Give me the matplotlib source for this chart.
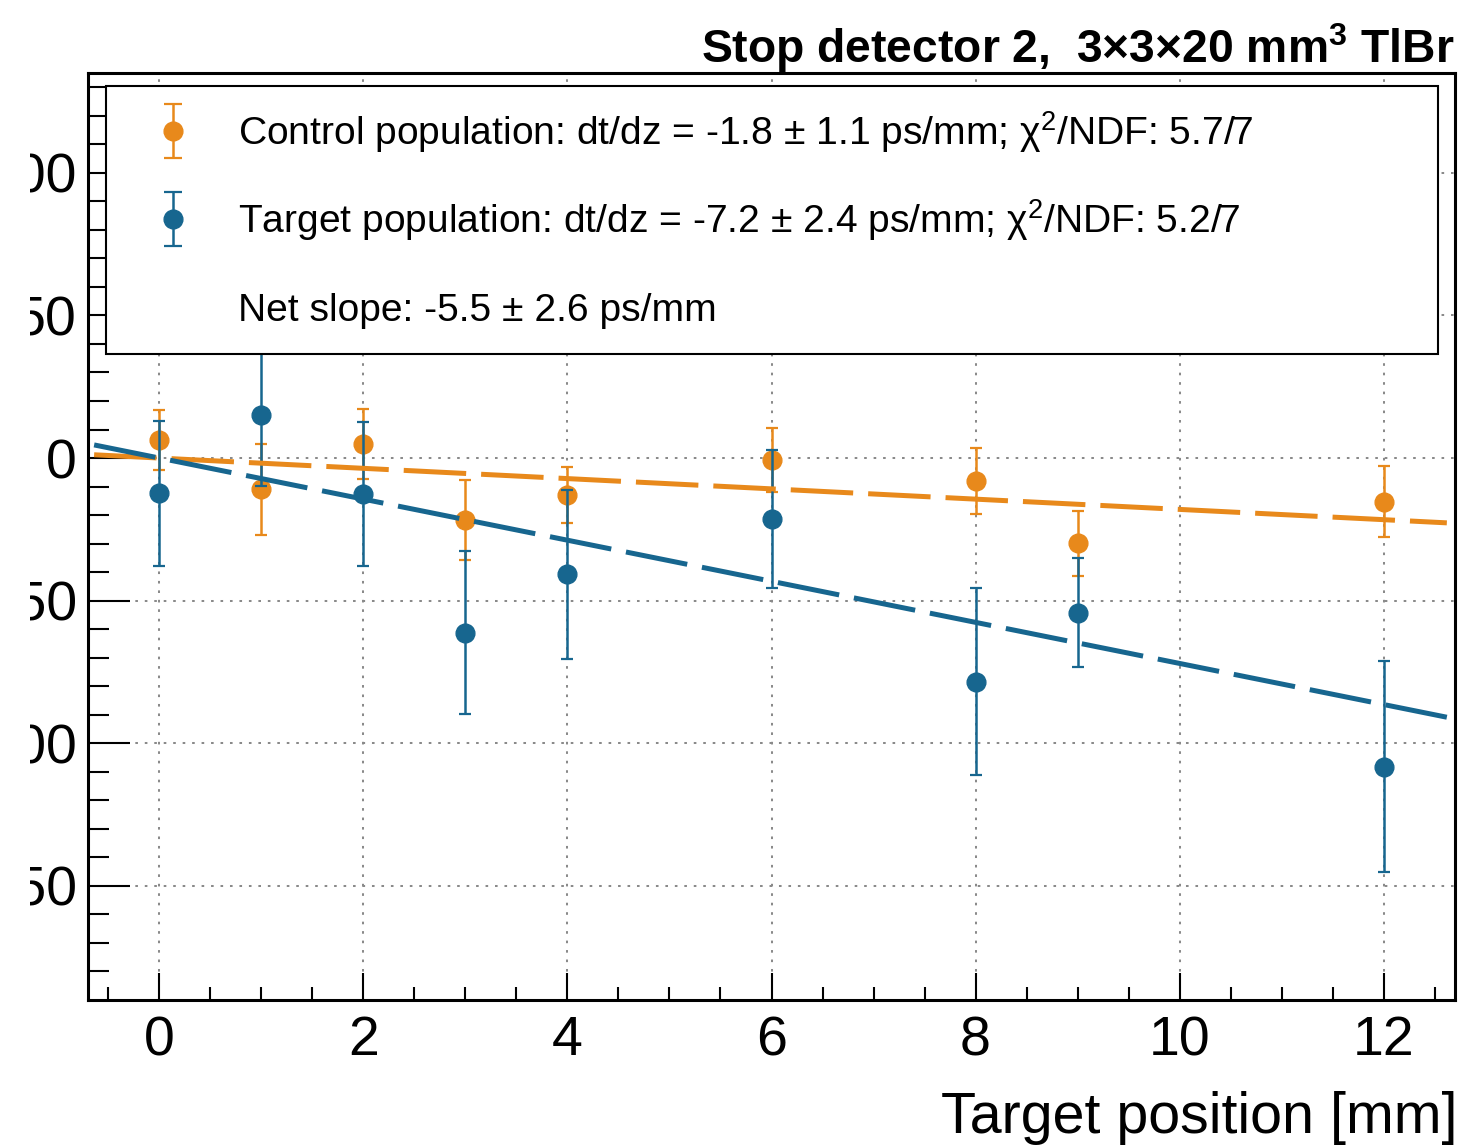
import numpy as np
import matplotlib
matplotlib.use("Agg")
import matplotlib.pyplot as plt
from matplotlib.lines import Line2D
from matplotlib.patches import Rectangle
from matplotlib.container import ErrorbarContainer
from matplotlib.legend_handler import HandlerErrorbar

plt.rcParams['font.family'] = ['Liberation Sans', 'DejaVu Sans']
plt.rcParams['mathtext.fontset'] = 'custom'
plt.rcParams['mathtext.rm'] = 'Liberation Sans'
plt.rcParams['mathtext.it'] = 'Liberation Sans:italic'
plt.rcParams['mathtext.bf'] = 'Liberation Sans:bold'
plt.rcParams['mathtext.default'] = 'regular'

# measured time offsets vs. target position
positions = [0, 1, 2, 3, 4, 6, 8, 9, 12]
control_dt = [6.3, -11.0, 4.9, -21.7, -13.0, -0.7, -8.1, -29.9, -15.3]
control_err = [10.4, 16.1, 12.3, 14.1, 9.7, 11.1, 11.6, 11.5, 12.4]
target_dt = [-12.4, 15.2, -12.6, -61.2, -40.7, -21.4, -78.4, -54.2, -108.2]
target_err = [25.3, 25.0, 25.2, 28.7, 29.6, 24.2, 32.7, 19.1, 36.9]

# linear fits (slope in ps/mm, offset in ps)
control_fit = (-1.8, 0.0)
target_fit = (-7.2, 0.0)
fit_range = (-0.64, 12.62)

labels = [
    r"Control population: dt/dz = -1.8 ± 1.1 ps/mm; $\chi^{2}$/NDF: 5.7/7",
    r"Target population: dt/dz = -7.2 ± 2.4 ps/mm; $\chi^{2}$/NDF: 5.2/7",
    "Net slope: -5.5 ± 2.6 ps/mm",
]

orange = "#E8891B"
blue = "#17668F"


class LegendErrorbar(HandlerErrorbar):
    # same as HandlerErrorbar, but marker centred on the text and wider caps
    def create_artists(self, legend, orig_handle, xdescent, ydescent, width,
                       height, fontsize, trans):
        artists = super().create_artists(legend, orig_handle, xdescent,
                                         ydescent + 0.254 * fontsize, width,
                                         height, fontsize, trans)
        for a in artists:
            if isinstance(a, Line2D) and a.get_marker() == '_':
                a.set_markersize(13.5)
        return artists


W, H = 1466, 1145
fig = plt.figure(figsize=(W / 100, H / 100), dpi=100)
ax = fig.add_axes([88 / W, 1 - 1000 / H, (1455 - 88) / W, (1000 - 73) / H])

eb_c = ax.errorbar(positions, control_dt, yerr=control_err, fmt='o', color=orange,
                   ms=13.5, mec=orange, elinewidth=1.8, capsize=4, capthick=1.6,
                   zorder=3)
eb_t = ax.errorbar(positions, target_dt, yerr=target_err, fmt='o', color=blue,
                   ms=13.5, mec=blue, elinewidth=1.8, capsize=4, capthick=1.6,
                   zorder=4)

xf = np.linspace(fit_range[0], fit_range[1], 200)
ax.plot(xf, control_fit[0] * xf + control_fit[1], color=orange, lw=3.6,
        linestyle=(0, (12.5, 3)), dash_capstyle='butt', zorder=5)
ax.plot(xf, target_fit[0] * xf + target_fit[1], color=blue, lw=3.6,
        linestyle=(0, (12.5, 3)), dash_capstyle='butt', zorder=6)

ax.set_xlim(-0.7, 12.7)
ax.set_ylim(-190, 135)
ax.set_xticks(np.arange(0, 13, 2))
ax.set_xticks(np.arange(-0.5, 12.7, 0.5), minor=True)
ax.set_yticks(np.arange(-150, 101, 50))
ax.set_yticks(np.arange(-180, 131, 10), minor=True)

ax.grid(True, which='major', color='#8a8a8a', linestyle=(0, (1.3, 3.4)), linewidth=1.45)
ax.set_axisbelow(True)

for s in ax.spines.values():
    s.set_linewidth(2.2)
ax.tick_params(which='both', direction='in', top=False, right=False, width=1.5,
               labelsize=40)
ax.tick_params(axis='y', which='major', length=30, pad=8)
ax.tick_params(axis='y', which='minor', length=15)
ax.tick_params(axis='x', which='major', length=19.5, pad=11)
ax.tick_params(axis='x', which='minor', length=9.5)

ax.set_xlabel("Target position [mm]", fontsize=41.3, ha='right', va='baseline')
ax.xaxis.set_label_coords(1.0 + 3 / 1367, (1000 - 1133) / 927)

fig.text(1455 / W, 1 - 63 / H, r"Stop detector 2,  3×3×20 mm$^{3}$ TlBr",
         fontsize=33.3, fontweight='bold', ha='right', va='baseline')

blank = plt.Line2D([], [], color='none')
leg = ax.legend([eb_c, eb_t, blank], labels, loc='upper left',
                bbox_to_anchor=(106 / W, 0, (1438 - 106) / W, 1 - 86 / H),
                bbox_transform=fig.transFigure, mode='expand', borderaxespad=0,
                fontsize=28.1, fancybox=False, framealpha=1, edgecolor='black',
                borderpad=0.54, labelspacing=0.97, handlelength=2.36,
                handleheight=1.6, handletextpad=0.49,
                handler_map={ErrorbarContainer: LegendErrorbar(yerr_size=0.69)})
leg.get_frame().set_linewidth(1.5)
leg.set_zorder(10)

# left edge of the original picture is cropped
fig.add_artist(Rectangle((0, 0), 30 / W, 1, transform=fig.transFigure,
                         facecolor='white', edgecolor='none', zorder=20))

fig.savefig("out.png", dpi=100)
